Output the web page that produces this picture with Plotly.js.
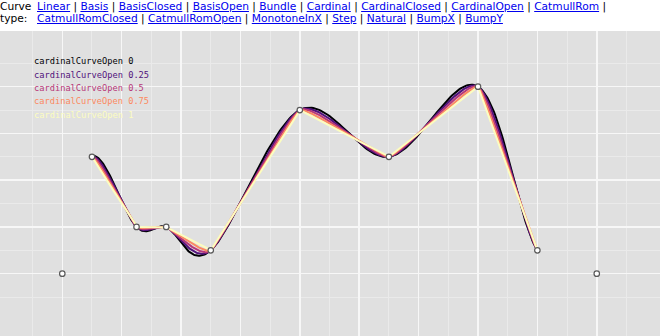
<!DOCTYPE html>
<html>
<head>
<meta charset="utf-8">
<script src="https://cdn.plot.ly/plotly-3.0.1.min.js"></script>
<style>
  html, body { margin: 0; padding: 0; background: #ffffff; width: 660px; height: 336px; overflow: hidden; }
  #hdr { position: absolute; left: 0; top: 1px; width: 660px; font-family: "DejaVu Sans", sans-serif; font-size: 10.65px; line-height: 12px; color: #000; }
  #lbl { position: absolute; left: 0; top: 0; }
  #links { position: absolute; left: 37px; top: 0; white-space: nowrap; }
  #links a { color: #0000ee; text-decoration: underline; }
  #plot { position: absolute; left: 0; top: 31px; width: 660px; height: 305px; }
</style>
</head>
<body>
<div id="hdr">
  <div id="lbl">Curve<br>type:</div>
  <div id="links"></div>
</div>
<div id="plot"></div>
<script>
// ---- data ----
const curveTypesLine1 = ["Linear", "Basis", "BasisClosed", "BasisOpen", "Bundle", "Cardinal", "CardinalClosed", "CardinalOpen", "CatmullRom"];
const curveTypesLine2 = ["CatmullRomClosed", "CatmullRomOpen", "MonotoneInX", "Step", "Natural", "BumpX", "BumpY"];
const pointX = [0, 1, 2.5, 3.5, 5, 8, 11, 14, 16, 18];
const pointY = [0, 5, 2, 2, 1, 7, 5, 8, 1, 0];
const tensions = [0, 0.25, 0.5, 0.75, 1];
const curveColors = ["#000004", "#51127c", "#b73779", "#fc8961", "#fcfdbf"];
const labelPrefix = "cardinalCurveOpen";
const xMajorTicks = [0, 2, 4, 6, 8, 10, 12, 14, 16, 18];
const xMinorTicks = [-1, 1, 3, 5, 7, 9, 11, 13, 15, 17, 19];
const yMajorTicks = [0, 2, 4, 6, 8];
const yMinorTicks = [-1, 1, 3, 5, 7, 9];

// ---- header links ----
function linkLine(arr, trailing) {
  return arr.map(t => '<a href="#">' + t + '</a>').join(' | ') + (trailing ? ' |' : '');
}
document.getElementById('links').innerHTML = linkLine(curveTypesLine1, true) + '<br>' + linkLine(curveTypesLine2, false);

// ---- cardinal open curve (d3.curveCardinalOpen algorithm) ----
function cardinalOpen(xs, ys, tension, steps) {
  const k = (1 - tension) / 6;
  const ox = [], oy = [];
  for (let i = 1; i <= xs.length - 3; i++) {
    const x0 = xs[i - 1], y0 = ys[i - 1], x1 = xs[i], y1 = ys[i];
    const x2 = xs[i + 1], y2 = ys[i + 1], x3 = xs[i + 2], y3 = ys[i + 2];
    const c1x = x1 + k * (x2 - x0), c1y = y1 + k * (y2 - y0);
    const c2x = x2 + k * (x1 - x3), c2y = y2 + k * (y1 - y3);
    for (let s = (i === 1 ? 0 : 1); s <= steps; s++) {
      const t = s / steps, u = 1 - t;
      ox.push(u*u*u*x1 + 3*u*u*t*c1x + 3*u*t*t*c2x + t*t*t*x2);
      oy.push(u*u*u*y1 + 3*u*u*t*c1y + 3*u*t*t*c2y + t*t*t*y2);
    }
  }
  return [ox, oy];
}

const traces = tensions.map((tn, i) => {
  const [cx, cy] = cardinalOpen(pointX, pointY, tn, 60);
  return { x: cx, y: cy, type: 'scatter', mode: 'lines',
           line: { color: curveColors[i], width: 2 }, hoverinfo: 'skip', showlegend: false };
});
traces.push({ x: pointX, y: pointY, type: 'scatter', mode: 'markers',
  marker: { size: 5.5, color: '#ffffff', line: { color: '#5a5a5a', width: 1.2 } },
  hoverinfo: 'skip', showlegend: false });

const labelTop = 0.9, labelStep = 0.0436;
const annotations = tensions.map((tn, i) => ({
  xref: 'paper', yref: 'paper', x: 0.0485, y: labelTop - i * labelStep,
  xanchor: 'left', yanchor: 'middle', showarrow: false,
  text: labelPrefix + ' ' + tn,
  font: { family: '"DejaVu Sans Mono", monospace', size: 8.7, color: curveColors[i] }
}));

const axisCommon = {
  showline: false, zeroline: false, ticks: '', showticklabels: false,
  gridcolor: '#f7f7f7', gridwidth: 1.5, tickmode: 'array', fixedrange: true
};
const layout = {
  width: 660, height: 305,
  margin: { l: 0, r: 0, t: 0, b: 0 },
  paper_bgcolor: '#e0e0e0', plot_bgcolor: '#e0e0e0',
  xaxis: Object.assign({}, axisCommon, { range: [-2.098, 20.13], tickvals: xMajorTicks,
    minor: { tickmode: 'array', tickvals: xMinorTicks, showgrid: true, gridcolor: '#eaeaea', gridwidth: 1 } }),
  yaxis: Object.assign({}, axisCommon, { range: [-2.665, 10.38], tickvals: yMajorTicks,
    minor: { tickmode: 'array', tickvals: yMinorTicks, showgrid: true, gridcolor: '#eaeaea', gridwidth: 1 } }),
  annotations: annotations
};
Plotly.newPlot('plot', traces, layout, { displayModeBar: false, staticPlot: true });
</script>
</body>
</html>
